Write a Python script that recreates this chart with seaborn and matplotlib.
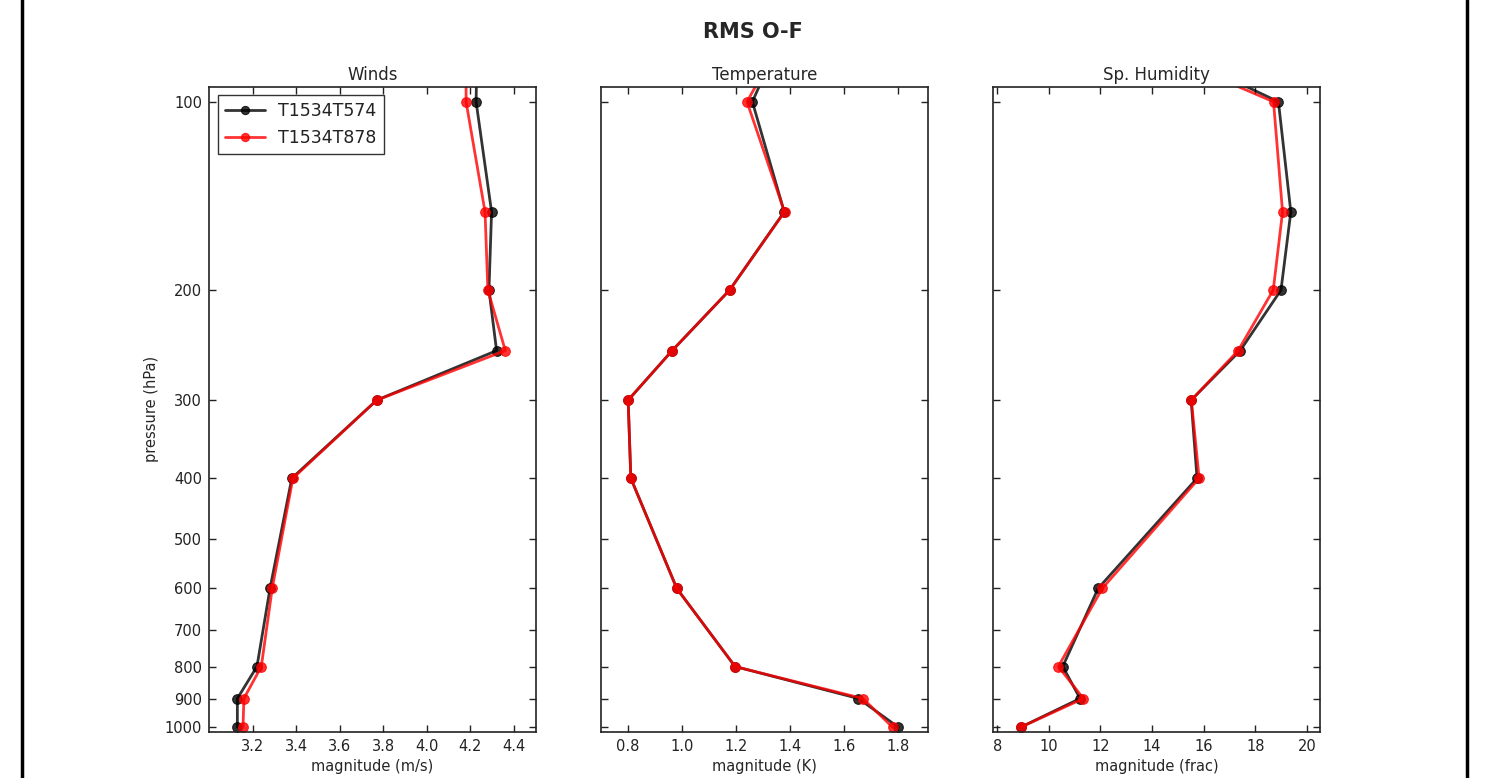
import numpy as np
import pandas as pd
import matplotlib
matplotlib.use("Agg")
import matplotlib.pyplot as plt
from matplotlib.lines import Line2D
from matplotlib.ticker import FixedLocator, FixedFormatter, NullLocator
import seaborn as sns

# ---- data ----
levels = [1000, 900, 800, 600, 400, 300, 250, 200, 150, 100, 50]
exp_names = ["T1534T574", "T1534T878"]
exp_colors = ["black", "red"]

winds_574 = [3.13, 3.13, 3.22, 3.28, 3.38, 3.77, 4.32, 4.285, 4.297, 4.226, 4.24]
winds_878 = [3.156, 3.16, 3.24, 3.29, 3.385, 3.77, 4.36, 4.28, 4.267, 4.18, 4.18]

temp_574 = [1.80, 1.653, 1.196, 0.98, 0.81, 0.80, 0.963, 1.176, 1.378, 1.26, 1.57]
temp_878 = [1.779, 1.669, 1.196, 0.98, 0.81, 0.80, 0.963, 1.176, 1.379, 1.24, 1.63]

hum_574 = [8.92, 11.21, 10.54, 11.91, 15.74, 15.51, 17.41, 18.99, 19.37, 18.89, 3.5]
hum_878 = [8.92, 11.34, 10.37, 12.07, 15.82, 15.52, 17.33, 18.69, 19.05, 18.70, 1.7]

panel_titles = ["Winds", "Temperature", "Sp. Humidity"]
panel_xlabels = ["magnitude (m/s)", "magnitude (K)", "magnitude (frac)"]
panel_xlims = [(3.0, 4.5), (0.7, 1.91), (7.85, 20.5)]
panel_xticks = [[3.2, 3.4, 3.6, 3.8, 4.0, 4.2, 4.4],
                [0.8, 1.0, 1.2, 1.4, 1.6, 1.8],
                [8, 10, 12, 14, 16, 18, 20]]
xtick_labels = [["3.2", "3.4", "3.6", "3.8", "4.0", "4.2", "4.4"],
                ["0.8", "1.0", "1.2", "1.4", "1.6", "1.8"],
                ["8", "10", "12", "14", "16", "18", "20"]]
ytick_vals = [100, 200, 300, 400, 500, 600, 700, 800, 900, 1000]
ytick_labels = ["100", "200", "300", "400", "500", "600", "700", "800", "900", "1000"]

series = [[winds_574, winds_878], [temp_574, temp_878], [hum_574, hum_878]]

# ---- plot ----
sns.set_style("white")
plt.rcParams["font.family"] = ["DejaVu Sans"]

fig, axes = plt.subplots(1, 3, figsize=(15.06, 7.78), dpi=100, sharey=True)
fig.subplots_adjust(left=0.1388, right=0.8765, bottom=0.0595, top=0.8886, wspace=0.2)

for i, ax in enumerate(axes):
    for name, col, vals in zip(exp_names, exp_colors, series[i]):
        df = pd.DataFrame({"pressure": levels, "value": vals})
        sns.lineplot(data=df, x="value", y="pressure", sort=False, estimator=None,
                     color=col, alpha=0.8, linewidth=2, marker="o", markersize=7,
                     markeredgecolor=col, label=name, ax=ax, legend=(i == 0))
    ax.set_yscale("log")
    ax.set_ylim(1017, 94.6)
    ax.yaxis.set_major_locator(FixedLocator(ytick_vals))
    ax.yaxis.set_major_formatter(FixedFormatter(ytick_labels))
    ax.yaxis.set_minor_locator(NullLocator())
    ax.set_xlim(*panel_xlims[i])
    ax.set_xticks(panel_xticks[i])
    ax.set_xticklabels(xtick_labels[i])
    ax.set_title(panel_titles[i], fontsize=12, pad=5)
    ax.set_xlabel(panel_xlabels[i], fontsize=10.5, labelpad=4)
    ax.set_ylabel("")
    ax.tick_params(direction="in", length=5, width=1, top=True, right=True,
                   bottom=True, left=True, labelsize=10.5, colors="#222222",
                   labelcolor="#222222", pad=5)
    for sp in ax.spines.values():
        sp.set_visible(True)
        sp.set_color("#222222")
        sp.set_linewidth(1.2)
    if i > 0:
        ax.tick_params(labelleft=False)

axes[0].set_ylabel("pressure (hPa)", fontsize=10.5, labelpad=4)
leg = axes[0].legend(loc="upper left", fontsize=12.5, frameon=True, fancybox=False,
                     edgecolor="black", borderaxespad=0.5, handlelength=2.3,
                     markerscale=0.85)
leg.get_frame().set_linewidth(1.0)
for t in leg.get_texts():
    t.set_color("#222222")

fig.suptitle("RMS O-F", fontsize=15, fontweight="bold", y=0.972)

# page border lines
fig.add_artist(Line2D([22 / 1506, 22 / 1506], [0, 1], transform=fig.transFigure,
                      color="black", linewidth=2.5))
fig.add_artist(Line2D([1467 / 1506, 1467 / 1506], [0, 1], transform=fig.transFigure,
                      color="black", linewidth=2.5))

fig.savefig("out.png", dpi=100, facecolor="white")
